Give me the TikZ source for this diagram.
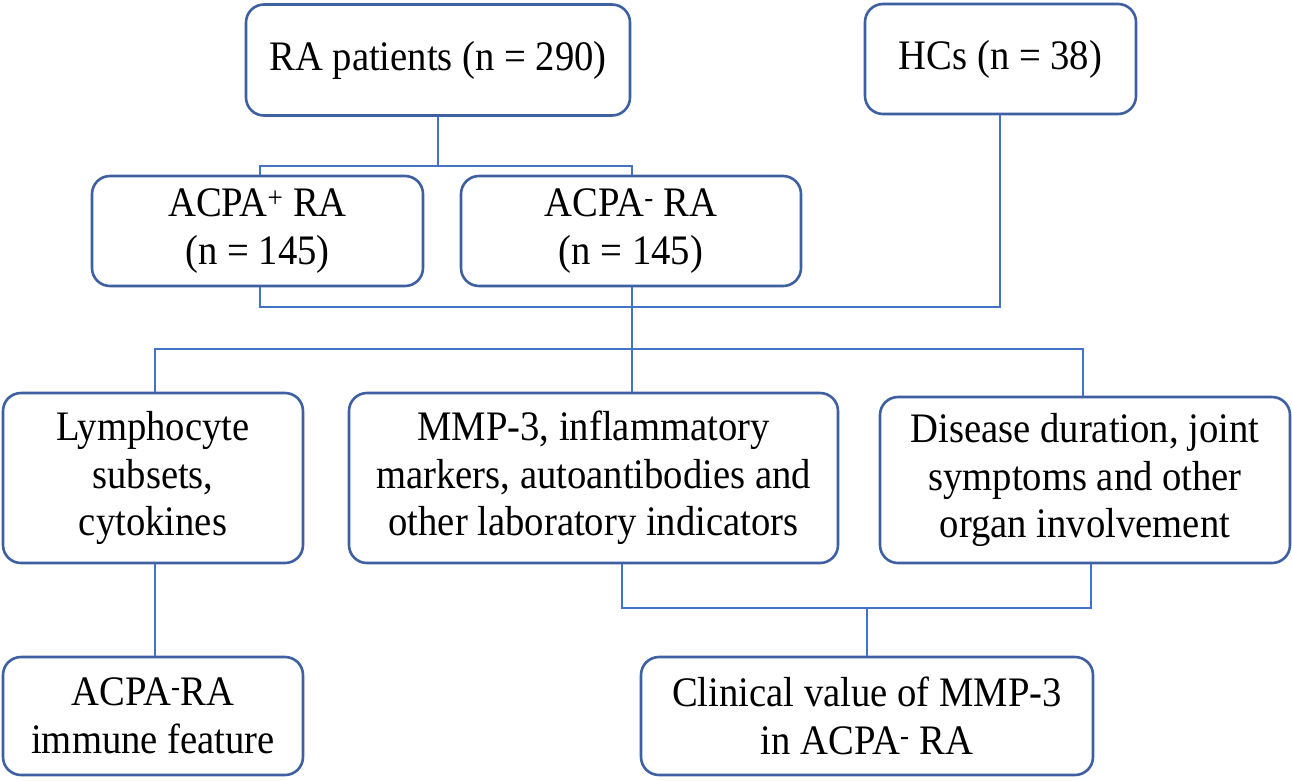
\documentclass[tikz,border=0pt]{standalone}
\usepackage{fontspec}
\setmainfont[FakeStretch=0.92]{Liberation Serif}
\definecolor{linecol}{RGB}{68,114,196}
\definecolor{boxcol}{RGB}{62,96,160}
\begin{document}
\begin{tikzpicture}[x=1pt,y=-1pt,
  box/.style={draw=boxcol, line width=2.6pt, rounded corners=18pt, fill=white,
    align=center, inner sep=0pt, font=\fontsize{42}{47.5}\selectfont},
  conn/.style={draw=linecol, line width=2.8pt}]
\useasboundingbox (0,0) rectangle (1292,780);
\node[box, minimum width=384pt, minimum height=111pt] (ra) at (438,60) {RA patients (n = 290)};
\node[box, minimum width=271pt, minimum height=110pt] (hc) at (1000.5,59) {HCs (n = 38)};
\node[box, minimum width=331pt, minimum height=110pt] (pos) at (257.5,231) {ACPA\textsuperscript{+} RA\\(n = 145)};
\node[box, minimum width=340pt, minimum height=110pt] (neg) at (631,231) {ACPA\textsuperscript{-} RA\\(n = 145)};
\node[box, minimum width=300pt, minimum height=170pt] (lym) at (153,478) {Lymphocyte\\subsets,\\cytokines};
\node[box, minimum width=489pt, minimum height=170pt] (mmp) at (593.5,478) {MMP-3, inflammatory\\markers, autoantibodies and\\other laboratory indicators};
\node[box, minimum width=410pt, minimum height=166pt] (dis) at (1085,480) {Disease duration, joint\\symptoms and other\\organ involvement};
\node[box, minimum width=300pt, minimum height=118pt] (imm) at (153,716) {ACPA\textsuperscript{-}RA\\immune feature};
\node[box, minimum width=452pt, minimum height=118pt] (cli) at (867,716) {Clinical value of MMP-3\\in ACPA\textsuperscript{-} RA};
\coordinate (b1L) at (260,166);
\coordinate (b1R) at (632,166);
\coordinate (b2L) at (260,307);
\coordinate (b2R) at (1000,307);
\coordinate (b3L) at (155,349);
\coordinate (b3R) at (1083,349);
\coordinate (b4L) at (622,608);
\coordinate (b4R) at (1091,608);
\coordinate (b4M) at (867,608);
\draw[conn] (ra.south) -- (ra.south |- b1L);
\draw[conn] (b1L |- pos.north) -- (b1L) -- (b1R) -- (b1R |- neg.north);
\draw[conn] (b2L |- pos.south) -- (b2L) -- (b2R) -- (b2R |- hc.south);
\draw[conn] (b1R |- neg.south) -- (b1R |- mmp.north);
\draw[conn] (b3L |- lym.north) -- (b3L) -- (b3R) -- (b3R |- dis.north);
\draw[conn] (b3L |- lym.south) -- (b3L |- imm.north);
\draw[conn] (b4L |- mmp.south) -- (b4L) -- (b4R) -- (b4R |- dis.south);
\draw[conn] (b4M) -- (b4M |- cli.north);
\end{tikzpicture}
\end{document}
